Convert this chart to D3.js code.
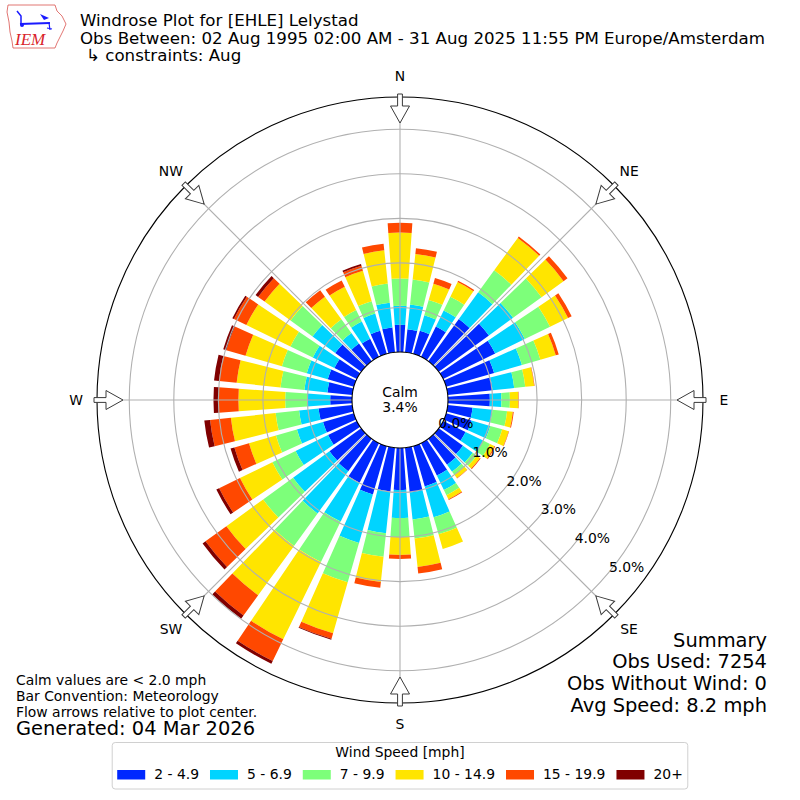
<!DOCTYPE html>
<html>
<head>
<meta charset="utf-8">
<script src="https://cdn.jsdelivr.net/npm/d3@7"></script>
<style>
  body { margin: 0; background: #fff; }
  text { font-family: "DejaVu Sans", sans-serif; fill: #000; }
</style>
</head>
<body>
<script>
// direction bins (degrees, meteorological)
var directions = [0, 10, 20, 30, 40, 50, 60, 70, 80, 90, 100, 110, 120, 130, 140, 150, 160, 170,
  180, 190, 200, 210, 220, 230, 240, 250, 260, 270, 280, 290, 300, 310, 320, 330, 340, 350];

var speedBins = ["2 - 4.9", "5 - 6.9", "7 - 9.9", "10 - 14.9", "15 - 19.9", "20+"];
var binColors = ["#0028ff", "#00d4ff", "#7dff7a", "#ffe500", "#ff4800", "#800000"];

// percent of obs in each direction, per speed bin
var spd2to5 = [0.61, 0.52, 0.54, 0.76, 1.17, 1.39, 1.30, 1.12, 1.01, 0.94,
  0.56, 0.59, 0.56, 0.67, 0.72, 0.81, 0.94, 1.01, 0.94,
  0.99, 1.13, 0.99, 0.90, 0.88, 0.72, 0.72, 0.76, 0.49,
  0.56, 0.61, 0.56, 0.72, 0.49, 0.45, 0.54, 0.56];
var spd5to7 = [0.43, 0.56, 0.36, 0.40, 0.74, 0.67, 0.74, 0.65, 0.49, 0.26,
  0.45, 0.44, 0.44, 0.27, 0.19, 0.36, 0.72, 0.61, 0.63,
  0.94, 1.13, 0.97, 1.17, 1.01, 0.81, 0.61, 0.44, 0.52,
  0.52, 0.49, 0.54, 0.63, 0.29, 0.43, 0.40, 0.56];
var spd7to10 = [0.61, 0.56, 0.36, 0.34, 0.61, 0.79, 0.63, 0.43, 0.25, 0.19,
  0.33, 0.28, 0.17, 0.11, 0.09, 0.13, 0.40, 0.43, 0.43,
  0.53, 0.92, 1.01, 0.90, 0.83, 0.58, 0.49, 0.53, 0.49,
  0.54, 0.58, 0.56, 0.61, 0.38, 0.29, 0.29, 0.43];
var spd10to15 = [1.03, 0.58, 0.38, 0.37, 0.90, 0.61, 0.45, 0.36, 0.20, 0.19,
  0.13, 0.15, 0.11, 0.09, 0.09, 0.10, 0.34, 0.64, 0.40,
  0.57, 1.19, 1.93, 1.37, 1.02, 0.81, 0.63, 1.01, 1.05,
  0.99, 0.85, 1.10, 0.72, 0.63, 0.58, 0.71, 0.75];
var spd15to20 = [0.22, 0.13, 0.13, 0.03, 0.04, 0.11, 0.09, 0.07, 0.01, 0.01,
  0.02, 0.01, 0.02, 0.02, 0.01, 0.02, 0.00, 0.15, 0.09,
  0.13, 0.13, 0.54, 0.56, 0.58, 0.52, 0.34, 0.47, 0.45,
  0.40, 0.45, 0.31, 0.18, 0.18, 0.16, 0.12, 0.15];
var spd20up = [0, 0, 0, 0, 0, 0, 0, 0, 0, 0,
  0, 0, 0, 0, 0, 0, 0, 0, 0,
  0, 0.02, 0.07, 0.09, 0.08, 0.07, 0.09, 0.13, 0.11,
  0.11, 0.07, 0.04, 0.07, 0, 0, 0.04, 0];

var ringTicks = [0, 1, 2, 3, 4, 5];
var compassNames = ["N", "NE", "E", "SE", "S", "SW", "W", "NW"];
var compassAngles = [0, 45, 90, 135, 180, 225, 270, 315];

var titleLines = ["Windrose Plot for [EHLE] Lelystad",
  "Obs Between: 02 Aug 1995 02:00 AM - 31 Aug 2025 11:55 PM Europe/Amsterdam",
  "\u21b3 constraints: Aug"];
var noteLines = ["Calm values are < 2.0 mph", "Bar Convention: Meteorology",
  "Flow arrows relative to plot center."];
var summaryLines = ["Summary", "Obs Used: 7254", "Obs Without Wind: 0", "Avg Speed: 8.2 mph"];
var calmPct = 3.4;

var cx = 400, cy = 400, rmax = 5.724;
var rad = Math.PI / 180;

var svg = d3.select("body").append("svg")
    .attr("width", 800)
    .attr("height", 800);
svg.append("rect").attr("width", 800).attr("height", 800).attr("fill", "#fff");

var r = d3.scaleLinear().domain([0, rmax]).range([48, 303]);

var keys = ["b0", "b1", "b2", "b3", "b4", "b5"];
var series = [spd2to5, spd5to7, spd7to10, spd10to15, spd15to20, spd20up];
var table = directions.map(function(d, i) {
    var row = {dir: d};
    keys.forEach(function(k, j) { row[k] = series[j][i]; });
    return row;
});
var stacked = d3.stack().keys(keys)(table);

var rose = svg.append("g").attr("transform", "translate(" + cx + "," + cy + ")");

var arc = d3.arc()
    .innerRadius(function(d) { return r(d[0]); })
    .outerRadius(function(d) { return r(d[1]); })
    .startAngle(function(d) { return (d.data.dir - 4) * rad; })
    .endAngle(function(d) { return (d.data.dir + 4) * rad; });

rose.selectAll(".layer")
    .data(stacked)
    .enter().append("g")
    .attr("class", "layer")
    .attr("fill", function(d, i) { return binColors[i]; })
    .selectAll("path")
    .data(function(d) { return d.filter(function(p) { return p[1] > p[0]; }); })
    .enter().append("path")
    .attr("d", arc);

// grid rings + spokes (drawn over bars, like the original)
rose.selectAll(".ring")
    .data(ringTicks.slice(1))
    .enter().append("circle")
    .attr("r", function(d) { return r(d); })
    .attr("fill", "none")
    .attr("stroke", "#b0b0b0")
    .attr("stroke-width", 1.1);

rose.selectAll(".spoke")
    .data(compassAngles)
    .enter().append("line")
    .attr("x1", function(d) { return r(0) * Math.sin(d * rad); })
    .attr("y1", function(d) { return -r(0) * Math.cos(d * rad); })
    .attr("x2", function(d) { return r(rmax) * Math.sin(d * rad); })
    .attr("y2", function(d) { return -r(rmax) * Math.cos(d * rad); })
    .attr("stroke", "#b0b0b0")
    .attr("stroke-width", 1.1);

rose.append("circle").attr("r", r(rmax)).attr("fill", "none").attr("stroke", "#000").attr("stroke-width", 1.1);
rose.append("circle").attr("r", r(0)).attr("fill", "#fff").attr("stroke", "#000").attr("stroke-width", 1.1);

// radial tick labels
var labAng = 130 * rad;
rose.selectAll(".rlab")
    .data(ringTicks)
    .enter().append("text")
    .attr("x", function(d) { return r(d) * Math.sin(labAng) + 1.5; })
    .attr("y", function(d) { return -r(d) * Math.cos(labAng) - 2.5; })
    .attr("font-size", 13.9)
    .text(function(d) { return d3.format(".1f")(d) + "%"; });

// compass labels
rose.selectAll(".clab")
    .data(compassNames)
    .enter().append("text")
    .attr("x", function(d, i) { return 324 * Math.sin(compassAngles[i] * rad); })
    .attr("y", function(d, i) { return -324 * Math.cos(compassAngles[i] * rad) + 5; })
    .attr("text-anchor", "middle")
    .attr("font-size", 13.9)
    .text(function(d) { return d; });

// flow arrows pointing to the center
var arrowPts = [[-2.4, -306], [2.4, -306], [2.4, -294], [9.5, -294], [0, -277], [-9.5, -294], [-2.4, -294]];
rose.selectAll(".arrow")
    .data(compassAngles)
    .enter().append("path")
    .attr("d", "M" + arrowPts.join("L") + "Z")
    .attr("transform", function(d) { return "rotate(" + d + ")"; })
    .attr("fill", "#fff")
    .attr("stroke", "#3a3a3a")
    .attr("stroke-width", 1);

// calm in the hole
rose.append("text").attr("y", -3.5).attr("text-anchor", "middle").attr("font-size", 13.9).text("Calm");
rose.append("text").attr("y", 11.7).attr("text-anchor", "middle").attr("font-size", 13.9)
    .text(d3.format(".1f")(calmPct) + "%");

// header
svg.selectAll(".title")
    .data(titleLines)
    .enter().append("text")
    .attr("x", function(d, i) { return i == 2 ? 86 : 80; })
    .attr("y", function(d, i) { return [26, 43.5, 61][i]; })
    .attr("font-size", 16.67)
    .text(function(d) { return d; });

// IEM logo, roughly
var logo = svg.append("g").attr("transform", "translate(0,0)");
logo.append("path")
    .attr("d", "M8,5 L55,5 L57,11 L62,16 L66,24 L63,31 L60,37 L57,43 L55,48 L13,48 L12,41 L10,32 L9,22 L7,12 Z")
    .attr("fill", "none").attr("stroke", "#d9534f").attr("stroke-width", 0.8);
logo.append("line").attr("x1", 20).attr("y1", 24).attr("x2", 50).attr("y2", 23)
    .attr("stroke", "#1a1aff").attr("stroke-width", 2.2);
logo.append("path").attr("d", "M17,11 L21,16 L21,24").attr("fill", "none").attr("stroke", "#1a1aff").attr("stroke-width", 1.5);
logo.append("path").attr("d", "M40,14 L49,18 L44,20 Z").attr("fill", "#1a1aff");
logo.append("path").attr("d", "M49,23 L50,30 M47,28 L52,29").attr("stroke", "#1a1aff").attr("stroke-width", 1.2);
logo.append("circle").attr("cx", 22).attr("cy", 25).attr("r", 2).attr("fill", "#1a1aff");
logo.append("text").attr("x", 15).attr("y", 45)
    .style("font-family", "'Liberation Serif', serif").style("font-style", "italic")
    .style("fill", "#d9232a").attr("font-size", 17).text("IEM");

// notes bottom left
svg.selectAll(".note")
    .data(noteLines)
    .enter().append("text")
    .attr("x", 16)
    .attr("y", function(d, i) { return 685 + i * 16; })
    .attr("font-size", 13.9)
    .text(function(d) { return d; });
svg.append("text").attr("x", 16).attr("y", 735).attr("font-size", 19.44).text("Generated: 04 Mar 2026");

// summary bottom right
svg.selectAll(".summ")
    .data(summaryLines)
    .enter().append("text")
    .attr("x", 767)
    .attr("y", function(d, i) { return 646.7 + i * 21.7; })
    .attr("text-anchor", "end")
    .attr("font-size", 19.44)
    .text(function(d) { return d; });

// legend
var leg = svg.append("g");
var legBox = leg.append("rect")
    .attr("y", 742.5).attr("height", 46.5).attr("rx", 3)
    .attr("fill", "#fff").attr("stroke", "#d0d0d0").attr("stroke-width", 1);
leg.append("text").attr("x", 400).attr("y", 757).attr("text-anchor", "middle")
    .attr("font-size", 13.9).text("Wind Speed [mph]");

var items = leg.selectAll(".item").data(speedBins).enter().append("g");
var labels = items.append("text").attr("y", 778.5).attr("font-size", 13.9).text(function(d) { return d; });
var widths = [];
labels.each(function() { widths.push(this.getComputedTextLength()); });
var swW = 28, pad = 9, gap = 11;
var total = d3.sum(widths) + speedBins.length * (swW + pad + gap) - gap;
var x0 = 400 - total / 2;
var xs = [];
widths.forEach(function(w) { xs.push(x0); x0 += swW + pad + w + gap; });
items.append("rect")
    .attr("x", function(d, i) { return xs[i]; })
    .attr("y", 770)
    .attr("width", swW).attr("height", 9.5)
    .attr("fill", function(d, i) { return binColors[i]; });
labels.attr("x", function(d, i) { return xs[i] + swW + pad; });
legBox.attr("x", xs[0] - 5).attr("width", total + 10);
</script>
</body>
</html>
